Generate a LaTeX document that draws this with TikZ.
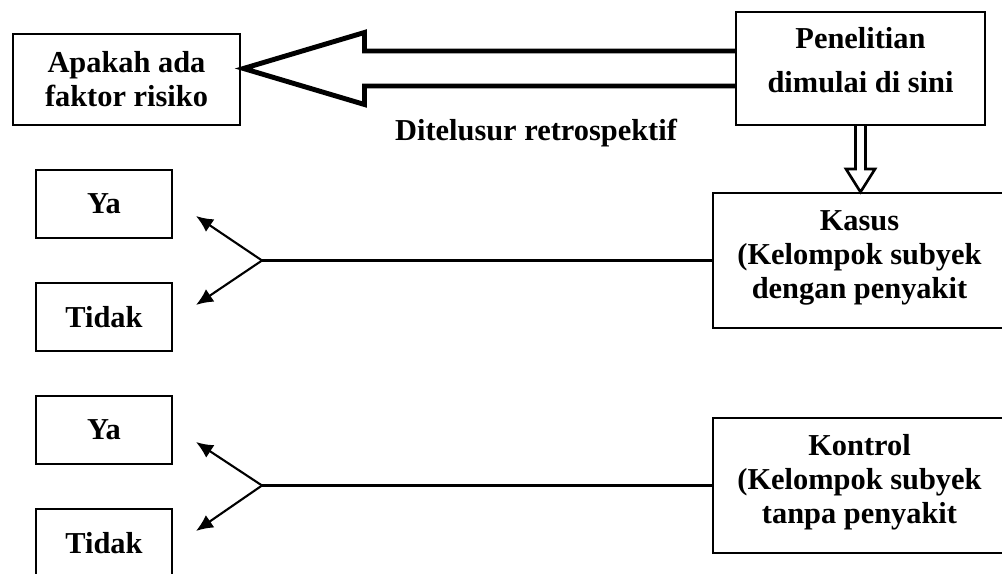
\documentclass[tikz,border=0pt]{standalone}
\usepackage{fontspec}
\setmainfont{Liberation Serif}
\usepackage{tikz}
\usetikzlibrary{arrows.meta, calc}

\begin{document}
\begin{tikzpicture}[
  font=\fontsize{17.3}{19.3}\selectfont\bfseries,
  box/.style    = {draw, line width=1.1pt, align=center, inner sep=0pt},
  ansbox/.style = {box, minimum width=2.72cm, minimum height=1.36cm},
  grpbox/.style = {box, minimum width=5.86cm, minimum height=2.70cm, text depth=0.25cm},
  lbl/.style    = {inner sep=0.8pt},
  link/.style   = {draw, line width=1.2pt},
  ax/.style     = {draw, -{Latex[length=3.4mm, width=3mm]}, line width=1.2pt},
  hollow/.style = {draw, miter limit=20},
]
\useasboundingbox (0,0) rectangle (20.04,11.46);

% =============== top row: start of the study, traced backwards ===============
\node[box, minimum width=4.54cm, minimum height=1.82cm] (risk) at (2.53,9.87)
  {Apakah ada\\faktor risiko};
\node[box, minimum width=4.98cm, minimum height=2.26cm, text depth=0.36cm] (start) at (17.21,10.09)
  {Penelitian\\[5.7pt]dimulai di sini};
\node[lbl] (retro) at (10.72,8.80) {Ditelusur retrospektif};

% big open arrow, start -> risk
\coordinate (rtip) at ($(risk.east |- start.west)+(0.05,0)$);
\draw[hollow, line width=2.8pt]
  ($(start.west)+(0,0.35)$) -- ($(rtip)+(2.42,0.35)$) -- ($(rtip)+(2.42,0.72)$)
  -- (rtip) -- ($(rtip)+(2.42,-0.72)$) -- ($(rtip)+(2.42,-0.35)$)
  -- ($(start.west)+(0,-0.35)$);

% =============== groups on the right ===============
\node[grpbox] (case) at (17.19,6.25) {Kasus\\(Kelompok subyek\\dengan penyakit};
\node[grpbox] (ctrl) at (17.19,1.75) {Kontrol\\(Kelompok subyek\\tanpa penyakit};

% small open arrow, start -> case
\coordinate (dtip) at (start.south |- case.north);
\draw[hollow, line width=1.5pt]
  ($(start.south)+(-0.10,0)$) -- ($(dtip)+(-0.10,0.46)$) -- ($(dtip)+(-0.29,0.46)$)
  -- (dtip) -- ($(dtip)+(0.29,0.46)$) -- ($(dtip)+(0.10,0.46)$)
  -- ($(start.south)+(0.10,0)$);

% =============== answers on the left ===============
\node[ansbox] (ya1)  at (2.08,7.38) {Ya};
\node[ansbox] (no1)  at (2.08,5.12) {Tidak};
\node[ansbox] (ya2)  at (2.08,2.86) {Ya};
\node[ansbox] (no2)  at (2.08,0.60) {Tidak};

\foreach \g/\y/\n [count=\i] in {case/ya1/no1, ctrl/ya2/no2} {
  \coordinate (fork\i) at (5.24,0 |- \g.west);
  \coordinate (ytip\i) at ($(\y.east)+(0.46,-0.24)$);
  \coordinate (ntip\i) at ($(\n.east)+(0.46,0.24)$);
  \draw[link] (\g.west) -- (fork\i);
  \draw[ax] (fork\i) -- (ytip\i);
  \draw[ax] (fork\i) -- (ntip\i);
}

\end{tikzpicture}
\end{document}
